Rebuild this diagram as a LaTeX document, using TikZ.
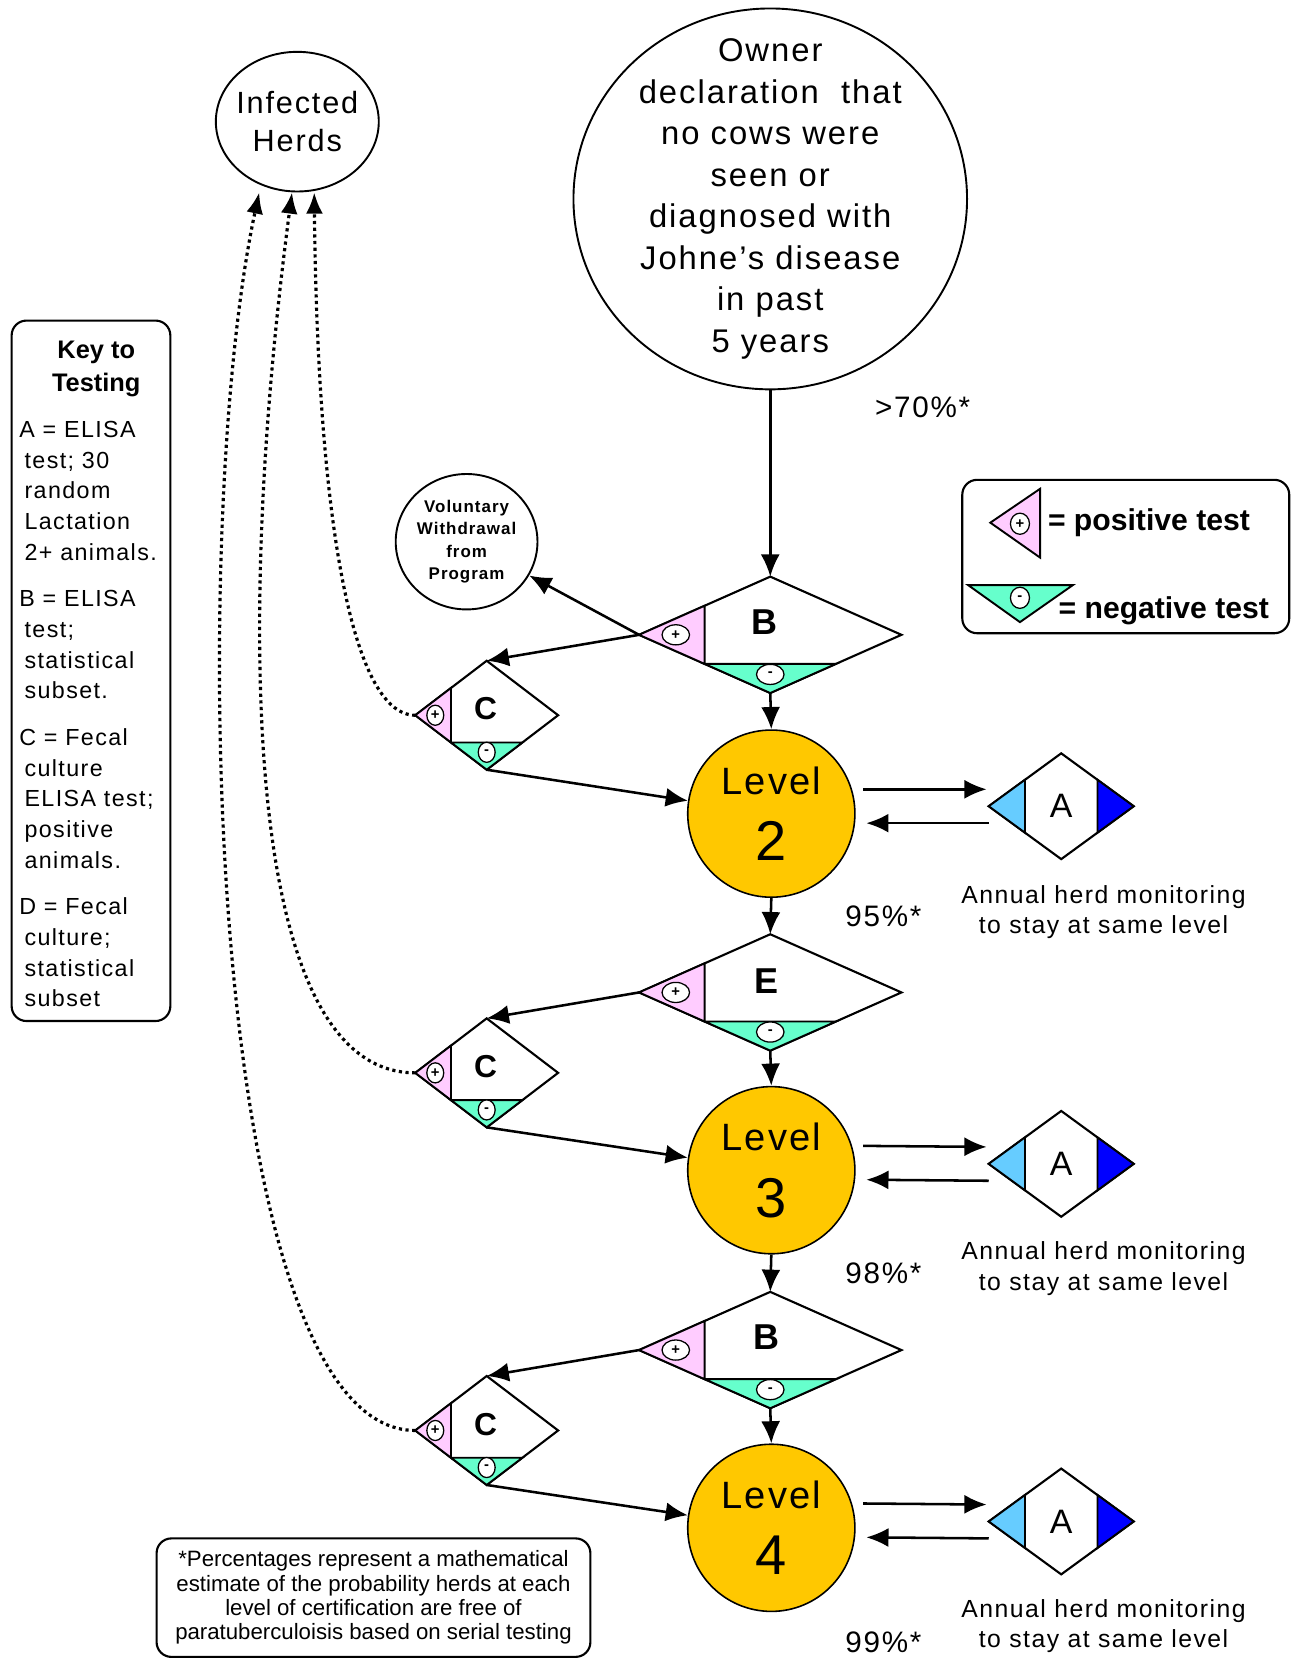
\documentclass[tikz,border=0pt]{standalone}
\usepackage{fontspec}
\setmainfont{Liberation Sans}
\newfontfamily\widefont[LetterSpace=6]{Liberation Sans}
\usepackage{tikz}
\usepackage{xcolor}
\usetikzlibrary{shapes.geometric,arrows.meta,calc}
\definecolor{levelgold}{RGB}{255,200,0}
\definecolor{pospink}{RGB}{255,204,255}
\definecolor{negcyan}{RGB}{102,255,204}
\definecolor{skyblue}{RGB}{102,204,255}
\definecolor{deepblue}{RGB}{0,0,255}
\tikzset{>=latex}
\tikzset{
	flow/.style={-{Latex[length=21pt,width=18pt]},line width=2.4pt},
	toherd/.style={-{Latex[length=20pt,width=16pt]},line width=3pt,dash pattern=on 3pt off 3.3pt},
	bubble/.style={ellipse,draw,line width=1.8pt,inner sep=0pt,align=center},
	levelcircle/.style={circle,draw,fill=levelgold,line width=1.5pt,minimum size=158pt,inner sep=0pt,align=center,font=\widefont\fontsize{36}{63}\selectfont},
	testbox/.style={diamond,draw,fill=white,line width=2pt,inner sep=0pt,outer sep=0pt},
	bigtest/.style={testbox,minimum width=248pt,minimum height=110pt},
	smalltest/.style={testbox,minimum width=135pt,minimum height=103pt},
	annualtest/.style={testbox,minimum width=137pt,minimum height=100pt},
	posfill/.style={fill=pospink,draw,line width=1.8pt},
	negfill/.style={fill=negcyan,draw,line width=1.8pt},
	sign/.style={ellipse,draw,fill=white,line width=1.2pt,inner sep=0pt,font=\bfseries\fontsize{14}{14}\selectfont},
	testletter/.style={font=\bfseries\fontsize{34}{34}\selectfont},
	keybox/.style={draw,rounded corners=14pt,line width=2pt},
	pct/.style={font=\widefont\fontsize{28}{28}\selectfont},
	monitor/.style={align=center,font=\widefont\fontsize{23.4}{29}\selectfont}
}
\begin{document}
\begin{tikzpicture}[x=1pt,y=-1pt]
	\useasboundingbox (0,0) rectangle (1223,1568);
	\node[bubble,inner ysep=-26pt,minimum width=372pt,minimum height=360pt,font=\widefont\fontsize{31}{39.3}\selectfont] (owner) at (728,188) {Owner\\declaration~ that\\no cows were\\seen or\\diagnosed with\\Johne’s disease\\in past\\5 years};
	\node[bubble,inner xsep=-5pt,minimum width=154pt,minimum height=132pt,font=\widefont\fontsize{29}{36}\selectfont] (infected) at (281,115) {Infected\\Herds};
	\node[bubble,inner xsep=-2pt,minimum width=134pt,minimum height=128pt,font=\widefont\bfseries\fontsize{16}{21}\selectfont] (quit) at (441,512) {Voluntary\\Withdrawal\\from\\Program};

	\node[keybox,minimum width=150pt,minimum height=662pt] (key) at (86,634) {};
	\node[align=center,font=\bfseries\fontsize{24}{31}\selectfont] (keytitle) at (91,349) {Key to\\Testing};
	\node[align=left,anchor=north west,inner sep=0pt,font=\widefont\fontsize{22}{29}\selectfont] (keytext) at (18,398) {A = ELISA\\\hspace*{5pt}test; 30\\\hspace*{5pt}random\\\hspace*{5pt}Lactation\\\hspace*{5pt}2+ animals.\\[15pt]B = ELISA\\\hspace*{5pt}test;\\\hspace*{5pt}statistical\\\hspace*{5pt}subset.\\[15pt]C = Fecal\\\hspace*{5pt}culture\\\hspace*{5pt}ELISA test;\\\hspace*{5pt}positive\\\hspace*{5pt}animals.\\[15pt]D = Fecal\\\hspace*{5pt}culture;\\\hspace*{5pt}statistical\\\hspace*{5pt}subset};

	\node[keybox,minimum width=309pt,minimum height=145pt] (legend) at (1064,526) {};
	\filldraw[posfill] (936,494) -- (983,462) -- (983,527) -- cycle;
	\node[sign,minimum width=18pt,minimum height=20pt] (legpos) at (964,495) {+};
	\node[anchor=west,font=\bfseries\fontsize{28.5}{28.5}\selectfont] (legpostext) at (987,494) {= positive test};
	\filldraw[negfill] (915,553) -- (1014,553) -- (964,588) -- cycle;
	\node[sign,minimum width=18pt,minimum height=20pt] (legneg) at (964,565) {-};
	\node[anchor=west,font=\bfseries\fontsize{28.5}{28.5}\selectfont] (legnegtext) at (997,577) {= negative test};

	\node[bigtest] (B1) at (728,600) {};
	\node[smalltest] (C1) at (460,676) {};
	\node[bigtest] (E2) at (728,938) {};
	\node[smalltest] (C2) at (460,1014) {};
	\node[bigtest] (B3) at (728,1276) {};
	\node[smalltest] (C3) at (460,1352) {};
	\node[annualtest] (A1) at (1003,762) {};
	\node[annualtest] (A2) at (1003,1100) {};
	\node[annualtest] (A3) at (1003,1438) {};
	\foreach \d/\sw in {B1/26,E2/26,B3/26,C1/16,C2/16,C3/16} {
		\filldraw[posfill] (\d.west) -- ($(\d.west)!0.5!(\d.north)$) -- ($(\d.west)!0.5!(\d.south)$) -- cycle;
		\filldraw[negfill] (\d.south) -- ($(\d.west)!0.5!(\d.south)$) -- ($(\d.east)!0.5!(\d.south)$) -- cycle;
		\node[sign,minimum width=\sw pt,minimum height=19pt] (\d-pos) at ($(\d.center)!0.72!(\d.west)$) {+};
		\node[sign,minimum width=\sw pt,minimum height=19pt] (\d-neg) at ($(\d.center)!0.68!(\d.south)$) {-};
	}
	\foreach \a in {A1,A2,A3} {
		\filldraw[fill=skyblue,line width=1.8pt] (\a.west) -- ($(\a.west)!0.5!(\a.north)$) -- ($(\a.west)!0.5!(\a.south)$) -- cycle;
		\filldraw[fill=deepblue,line width=1.8pt] (\a.east) -- ($(\a.east)!0.5!(\a.north)$) -- ($(\a.east)!0.5!(\a.south)$) -- cycle;
		\node[font=\fontsize{32}{32}\selectfont] (\a-t) at (\a) {A};
	}
	\node[testletter] (B1t) at ($(B1)+(-5,-12)$) {B};
	\node[testletter] (E2t) at ($(E2)+(-4,-11)$) {E};
	\node[testletter] (B3t) at ($(B3)+(-4,-12)$) {B};
	\node[testletter,font=\bfseries\fontsize{30}{30}\selectfont] (C1t) at ($(C1)+(-1,-6)$) {C};
	\node[testletter,font=\bfseries\fontsize{30}{30}\selectfont] (C2t) at ($(C2)+(-1,-6)$) {C};
	\node[testletter,font=\bfseries\fontsize{30}{30}\selectfont] (C3t) at ($(C3)+(-1,-6)$) {C};

	\node[levelcircle] (L2) at (729,769) {Level\\{\fontsize{53}{63}\selectfont 2}};
	\node[levelcircle] (L3) at (729,1106) {Level\\{\fontsize{53}{63}\selectfont 3}};
	\node[levelcircle] (L4) at (729,1444) {Level\\{\fontsize{53}{63}\selectfont 4}};

	\node[pct] (p70) at (872,385) {>70\%*};
	\node[pct] (p95) at (835,866) {95\%*};
	\node[pct] (p98) at (835,1203) {98\%*};
	\node[pct] (p99) at (835,1552) {99\%*};
	\node[monitor] (mon2) at (1043,862) {Annual herd monitoring\\to stay at same level};
	\node[monitor] (mon3) at (1043,1199) {Annual herd monitoring\\to stay at same level};
	\node[monitor] (mon4) at (1043,1537) {Annual herd monitoring\\to stay at same level};
	\node[keybox,align=center,minimum width=410pt,minimum height=112pt,font=\fontsize{21}{23}\selectfont] (note) at (353,1510) {*Percentages represent a mathematical\\estimate of the probability herds at each\\level of certification are free of\\paratuberculoisis based on serial testing};

	\draw[flow] (owner) -- (B1);
	\draw[flow] (B1.west) -- (quit);
	\draw[flow] (B1.west) -- (C1.north);
	\draw[flow] (B1.south) -- (L2.north);
	\draw[flow] (C1.south) -- (L2);
	\draw[flow] (L2.south) -- (E2.north);
	\draw[flow] (E2.west) -- (C2.north);
	\draw[flow] (E2.south) -- (L3.north);
	\draw[flow] (C2.south) -- (L3);
	\draw[flow] (L3.south) -- (B3.north);
	\draw[flow] (B3.west) -- (C3.north);
	\draw[flow] (B3.south) -- (L4.north);
	\draw[flow] (C3.south) -- (L4);
	\draw[flow] ([shift={(7,-23)}]L2.east) -- ([shift={(-2,-16)}]A1.west);
	\draw[flow] ([shift={(0,16)}]A1.west) -- ([shift={(10,9)}]L2.east);
	\draw[flow] ([shift={(7,-23)}]L3.east) -- ([shift={(-2,-16)}]A2.west);
	\draw[flow] ([shift={(0,16)}]A2.west) -- ([shift={(10,9)}]L3.east);
	\draw[flow] ([shift={(7,-23)}]L4.east) -- ([shift={(-2,-16)}]A3.west);
	\draw[flow] ([shift={(0,16)}]A3.west) -- ([shift={(10,9)}]L4.east);
	\draw[toherd] (C1.west) .. controls +(-62,0) and +(3,297) .. ([xshift=16pt]infected.south);
	\draw[toherd] (C2.west) .. controls +(-170,0) and +(-50,377) .. ([xshift=-5pt]infected.south);
	\draw[toherd] (C3.west) .. controls +(-200,0) and +(-68,317) .. ([xshift=-36pt]infected.south);
\end{tikzpicture}
\end{document}
